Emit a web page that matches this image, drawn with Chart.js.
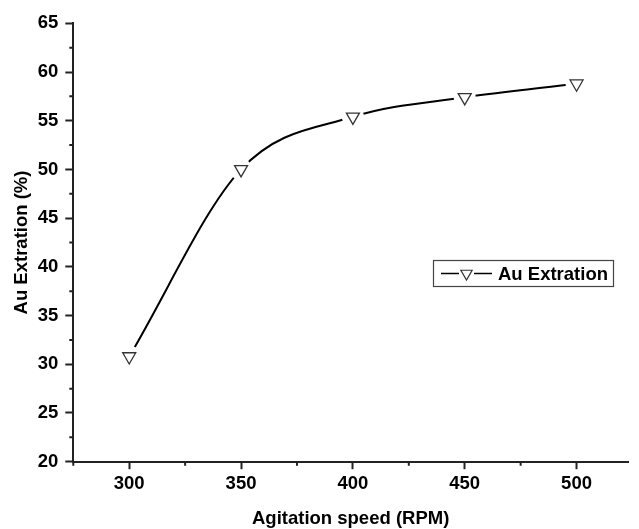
<!DOCTYPE html>
<html>
<head>
<meta charset="utf-8">
<script src="https://cdn.jsdelivr.net/npm/chart.js@4"></script>
<style>
  html, body { margin: 0; padding: 0; background: #fff; overflow: hidden; }
</style>
</head>
<body>
<canvas id="myChart" width="639" height="529"></canvas>
<script>
// data
let speeds = [300, 350, 400, 450, 500]
let extraction = [30.8, 50.0, 55.4, 57.4, 58.8]
let xTicks = [300, 350, 400, 450, 500]
let seriesName = 'Au Extration'

let points = speeds.map((s, i) => ({ x: s, y: extraction[i] }))

let fontFamily = "'Liberation Sans', Arial, sans-serif"
Chart.defaults.font.family = fontFamily
Chart.defaults.font.size = 18.5
Chart.defaults.font.weight = 'bold'
Chart.defaults.color = '#000'

// minor ticks + Origin-style legend box
let extras = {
    id: 'extras',
    afterDraw(chart) {
        let { ctx, chartArea, scales } = chart
        let x = scales.x, y = scales.y
        ctx.save()
        ctx.strokeStyle = '#222'
        ctx.lineWidth = 2
        ctx.beginPath()
        for (let v = x.min; v <= x.max; v += 25) {
            if (v % 50 === 0) continue
            let px = x.getPixelForValue(v)
            ctx.moveTo(px, chartArea.bottom)
            ctx.lineTo(px, chartArea.bottom + 4)
        }
        for (let v = y.min + 2.5; v < y.max; v += 5) {
            let py = y.getPixelForValue(v)
            ctx.moveTo(chartArea.left, py)
            ctx.lineTo(chartArea.left - 4, py)
        }
        ctx.stroke()

        // legend
        let bx = 433.5, by = 260.5, bw = 180, bh = 26
        ctx.fillStyle = '#fff'
        ctx.fillRect(bx, by, bw, bh)
        ctx.strokeStyle = '#444'
        ctx.lineWidth = 1.2
        ctx.strokeRect(bx, by, bw, bh)
        let cy = by + bh / 2
        ctx.strokeStyle = '#000'
        ctx.lineWidth = 1.5
        ctx.beginPath()
        ctx.moveTo(441, cy); ctx.lineTo(459, cy)
        ctx.moveTo(474, cy); ctx.lineTo(492, cy)
        ctx.stroke()
        let r = 6.5, tx = 466.5
        ctx.beginPath()
        ctx.moveTo(tx - r * 0.866, cy - r / 2)
        ctx.lineTo(tx + r * 0.866, cy - r / 2)
        ctx.lineTo(tx, cy + r)
        ctx.closePath()
        ctx.strokeStyle = '#333'
        ctx.lineWidth = 1.2
        ctx.stroke()
        ctx.fillStyle = '#000'
        ctx.font = 'bold 18.5px ' + fontFamily
        ctx.textBaseline = 'middle'
        ctx.textAlign = 'left'
        ctx.fillText(seriesName, 498, cy + 1)
        ctx.restore()
    }
}

let ctx = document.getElementById('myChart').getContext('2d')

let myChart = new Chart(ctx, {
    type: 'line',
    data: {
        datasets: [{
            label: seriesName,
            data: points,
            borderColor: '#000',
            borderWidth: 2,
            pointRadius: 0,
            fill: false,
            cubicInterpolationMode: 'monotone',
            order: 3
        }, {
            // white halo so the line stops short of each marker
            label: 'gap',
            data: points,
            showLine: false,
            pointStyle: 'circle',
            pointRadius: 11,
            pointBackgroundColor: '#fff',
            pointBorderWidth: 0,
            pointBorderColor: '#fff',
            order: 2
        }, {
            label: 'markers',
            data: points,
            showLine: false,
            pointStyle: 'triangle',
            pointRotation: 180,
            pointRadius: 7.5,
            pointBackgroundColor: '#fff',
            pointBorderColor: '#333',
            pointBorderWidth: 1.3,
            order: 1
        }]
    },
    options: {
        responsive: false,
        animation: false,
        devicePixelRatio: 1,
        layout: {
            padding: { left: 10.6, top: 23.3, right: 0, bottom: 0 }
        },
        plugins: {
            legend: { display: false },
            tooltip: { enabled: false }
        },
        scales: {
            x: {
                type: 'linear',
                min: 275,
                max: 523,
                afterBuildTicks: (scale) => {
                    scale.ticks = xTicks.map(v => ({ value: v }))
                },
                afterFit: (scale) => {
                    scale.height = 67.3
                },
                grid: {
                    drawOnChartArea: false,
                    drawTicks: true,
                    tickLength: 7.5,
                    tickWidth: 2,
                    tickColor: '#222'
                },
                border: { color: '#222', width: 2 },
                ticks: { padding: 4, maxRotation: 0, autoSkip: false },
                title: {
                    display: true,
                    text: 'Agitation speed (RPM)',
                    padding: { top: 0, bottom: -1 }
                }
            },
            y: {
                min: 20,
                max: 65,
                afterFit: (scale) => {
                    scale.width = 62.7
                },
                grid: {
                    drawOnChartArea: false,
                    drawTicks: true,
                    tickLength: 8,
                    tickWidth: 2,
                    tickColor: '#222'
                },
                border: { color: '#222', width: 2 },
                ticks: { stepSize: 5, padding: 7 },
                title: {
                    display: true,
                    text: 'Au Extration (%)',
                    padding: 0
                }
            }
        }
    },
    plugins: [extras]
})
</script>
</body>
</html>
